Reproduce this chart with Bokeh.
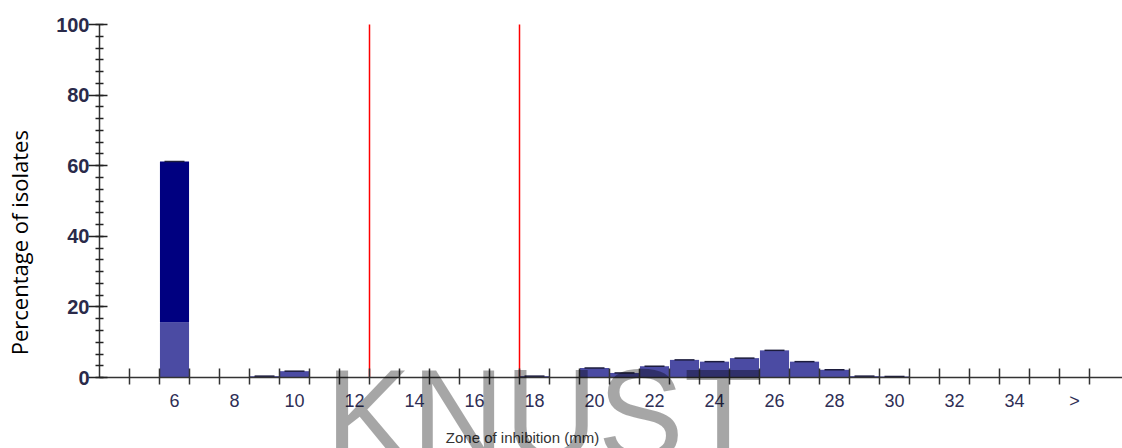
import math
from bokeh.plotting import figure
from bokeh.models import (ColumnDataSource, FixedTicker, SingleIntervalTicker, Range1d, LinearAxis)
from bokeh.core.properties import value
from bokeh.embed import file_html
from bokeh.resources import INLINE

# ---- data ----
zones = [6, 7, 8, 9, 10, 11, 12, 13, 14, 15, 16, 17, 18, 19, 20, 21,
         22, 23, 24, 25, 26, 27, 28, 29, 30, 31, 32, 33, 34, 35, 36]
light = [15.6, 0, 0, 0.4, 1.8, 0, 0, 0, 0, 0, 0, 0, 0.4, 0, 2.7, 1.3,
         3.2, 5.0, 4.5, 5.5, 7.7, 4.5, 2.2, 0.4, 0.3, 0, 0, 0, 0, 0, 0]
dark = [45.6, 0, 0, 0, 0, 0, 0, 0, 0, 0, 0, 0, 0, 0, 0, 0,
        0, 0, 0, 0, 0, 0, 0, 0, 0, 0, 0, 0, 0, 0, 0]
breakpoints = [12.5, 17.5]
label_ticks = [6, 8, 10, 12, 14, 16, 18, 20, 22, 24, 26, 28, 30, 32, 34, 36]
label_texts = ["6", "8", "10", "12", "14", "16", "18", "20", "22", "24",
               "26", "28", "30", "32", "34", ">"]
bin_edges = [z - 0.5 for z in range(5, 38)]
y_min, y_max = 0, 100
x_first = 3.5

source = ColumnDataSource(dict(zone=zones, light=light, dark=dark))
tops = [(z, l + d) for z, l, d in zip(zones, light, dark) if l + d > 0]
top_source = ColumnDataSource(dict(zone=[t[0] for t in tops], total=[t[1] for t in tops]))
bp_source = ColumnDataSource(dict(x=breakpoints, y0=[y_min] * len(breakpoints),
                                  y1=[y_max] * len(breakpoints)))

p = figure(width=1122, height=448, output_backend="svg", toolbar_location=None,
           x_range=Range1d(0.2, 37.6), y_range=Range1d(-20.1, 106.8),
           x_axis_location=None, y_axis_location=None,
           min_border_left=0, min_border_right=0, min_border_top=0,
           min_border_bottom=0)
p.outline_line_color = None
p.xgrid.visible = False
p.ygrid.visible = False

p.vbar_stack(["light", "dark"], x="zone", width=0.97, source=source,
             color=["#4b4ba3", "#000080"], line_color=None)
p.scatter(x="zone", y="total", source=top_source, marker="dash", size=20,
          line_color="#1c1c3c", line_width=1.5)
p.segment(x0="x", y0="y0", x1="x", y1="y1", source=bp_source,
          line_color="#ff0000", line_width=1.5)

# x axis
xa = LinearAxis(fixed_location=y_min, bounds=(x_first, 37.6))
xa.ticker = FixedTicker(ticks=label_ticks, minor_ticks=bin_edges)
xa.major_label_overrides = {t: s for t, s in zip(label_ticks, label_texts)}
xa.major_tick_in = 0
xa.major_tick_out = 0
xa.minor_tick_in = 9
xa.minor_tick_out = 7
xa.minor_tick_line_color = "#333333"
xa.minor_tick_line_width = 1.5
xa.axis_line_color = "#333333"
xa.axis_line_width = 1.5
xa.major_label_standoff = 6
xa.major_label_text_font = "Liberation Sans"
xa.major_label_text_font_size = "18px"
xa.major_label_text_color = "#2e2e55"
p.add_layout(xa, "below")

# y axis
ya = LinearAxis(fixed_location=x_first, bounds=(y_min, y_max))
ya.ticker = SingleIntervalTicker(interval=20, num_minor_ticks=6)
ya.major_tick_in = 8
ya.major_tick_out = 11
ya.minor_tick_in = 4
ya.minor_tick_out = 4
ya.major_tick_line_color = "#222222"
ya.minor_tick_line_color = "#222222"
ya.major_tick_line_width = 1.5
ya.minor_tick_line_width = 1.5
ya.axis_line_color = "#333333"
ya.axis_line_width = 1.5
ya.major_label_standoff = -1
ya.major_label_text_font = "Liberation Sans"
ya.major_label_text_font_size = "20px"
ya.major_label_text_font_style = "bold"
ya.major_label_text_color = "#2a2a4a"
p.add_layout(ya, "left")

# axis titles (placed off-centre like the reference)
p.text(x=[17.6], y=[-17.0], text=["Zone of inhibition (mm)"],
       text_font=value("Liberation Sans"), text_font_size="15px",
       text_color="#333333", text_align="center", text_baseline="middle")
p.text(x=[0.83], y=[38.2], text=["Percentage of isolates"], angle=math.pi / 2,
       text_font=value("Open Sans"), text_font_size="22px",
       text_color="#000000", text_align="center", text_baseline="middle")

# watermark (semi-transparent, darkens what lies beneath)
p.text(x=[11.03], y=[-10.5], text=["KNUST"], text_font=value("Liberation Sans"),
       text_font_size="129px", text_color="#000000", text_alpha=0.35,
       text_align="left", text_baseline="alphabetic", level="overlay")

open("out.html", "w").write(file_html(p, INLINE))
